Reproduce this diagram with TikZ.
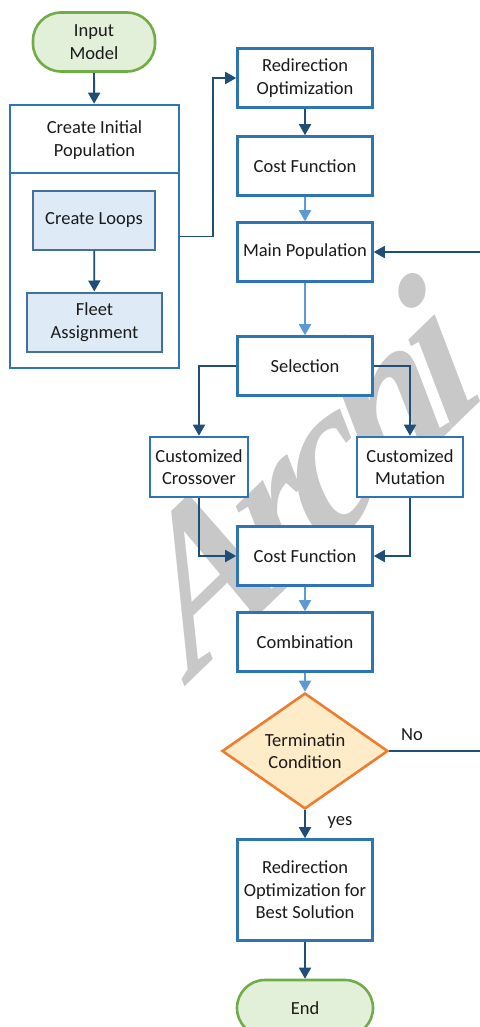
\documentclass[tikz,border=0pt]{standalone}
\usepackage{fontspec}
\setmainfont{Carlito}
\newfontfamily\wmfont{Liberation Serif}[LetterSpace=-8]
\usetikzlibrary{shapes.geometric,arrows.meta}
\definecolor{boxblue}{HTML}{2E75B6}
\definecolor{darkarr}{HTML}{1F4E79}
\definecolor{lightarr}{HTML}{5B9BD5}
\definecolor{subfill}{HTML}{DEEBF7}
\definecolor{subborder}{HTML}{41719C}
\definecolor{termfill}{HTML}{E2F0D9}
\definecolor{termborder}{HTML}{70AD47}
\definecolor{diafill}{HTML}{FEEBC8}
\definecolor{diaborder}{HTML}{ED7D31}
\definecolor{txt}{HTML}{1A1A1A}
\definecolor{wmgray}{HTML}{C8C8C8}
\tikzset{
  base/.style={align=center, inner sep=0pt, text=txt, font=\fontsize{18.5}{22.5}\selectfont},
  procbox/.style={base, draw=boxblue, line width=2.6pt, fill=white, minimum width=135pt, minimum height=59pt},
  subbox/.style={base, draw=subborder, line width=2pt, fill=subfill, minimum height=59pt},
  term/.style={base, draw=termborder, line width=2.6pt, fill=termfill, rounded corners=28pt, minimum height=59pt},
  decision/.style={base, diamond, draw=diaborder, line width=2.6pt, fill=diafill, minimum width=166pt, minimum height=101pt},
  darrow/.style={draw=darkarr, line width=1.8pt, -{Triangle[length=11pt,width=12pt]}},
  larrow/.style={draw=lightarr, line width=1.8pt, -{Triangle[length=11pt,width=12pt]}},
  lbl/.style={base},
  watermark/.style={text=wmgray, inner sep=0pt, font=\wmfont\bfseries\itshape\fontsize{205}{205}\selectfont}
}
\begin{document}
\begin{tikzpicture}[x=1pt,y=-1pt]
\useasboundingbox (0,0) rectangle (479,1027);
\fill[white] (0,0) rectangle (479,1027);
% watermark
\node[watermark, rotate=44, xslant=0.25, anchor=base west] (wm) at (192,680) {Archi};
% left column
\node[term, minimum width=122pt] (input) at (94,42) {Input\\Model};
\node[draw=boxblue, line width=2.6pt, fill=white, minimum width=169pt, minimum height=263pt, inner sep=0pt] (init) at (94.5,236.5) {};
\node[lbl] (inittitle) at (94.5,140) {Create Initial\\Population};
\draw[boxblue, line width=2.6pt] (init.west |- 0,173) -- (init.east |- 0,173);
\node[subbox, minimum width=122pt] (loops) at (94,220) {Create Loops};
\node[subbox, minimum width=135pt] (fleet) at (94.5,322) {Fleet\\Assignment};
% main column
\node[procbox] (redir) at (305,78) {Redirection\\Optimization};
\node[procbox] (cost1) at (305,166) {Cost Function};
\node[procbox] (mainpop) at (305,252) {Main Population};
\node[procbox] (sel) at (305,366) {Selection};
\node[procbox, minimum width=98pt, minimum height=60pt] (cross) at (199,467) {Customized\\Crossover};
\node[procbox, minimum width=106pt, minimum height=60pt] (mut) at (410,467) {Customized\\Mutation};
\node[procbox] (cost2) at (305,556) {Cost Function};
\node[procbox] (comb) at (305,642) {Combination};
\node[decision] (dia) at (305,751) {Terminatin\\Condition};
\node[procbox, minimum height=101pt] (best) at (305,890) {Redirection\\Optimization for\\Best Solution};
\node[term, minimum width=136pt, minimum height=56pt] (endn) at (305,1008) {End};
% connectors
\draw[darrow] (input) -- (init);
\draw[darrow] (loops) -- (fleet);
\draw[darrow] (init.east) -- ++(33,0) |- (redir.west);
\draw[darrow] (redir) -- (cost1);
\draw[larrow] (cost1) -- (mainpop);
\draw[larrow] (mainpop) -- (sel);
\draw[darrow] (sel.west) -| (cross.north);
\draw[darrow] (sel.east) -| (mut.north);
\draw[darrow] (cross.south) |- (cost2.west);
\draw[darrow] (mut.south) |- (cost2.east);
\draw[larrow] (cost2) -- (comb);
\draw[larrow] (comb) -- (dia);
\draw[darrow] (dia.east) -- ++(110,0) |- (mainpop.east);
\node[lbl] (no) at (412,735) {No};
\draw[darrow] (dia) -- (best);
\node[lbl] (yes) at (340,822) {yes};
\draw[darrow] (best) -- (endn);
\end{tikzpicture}
\end{document}
